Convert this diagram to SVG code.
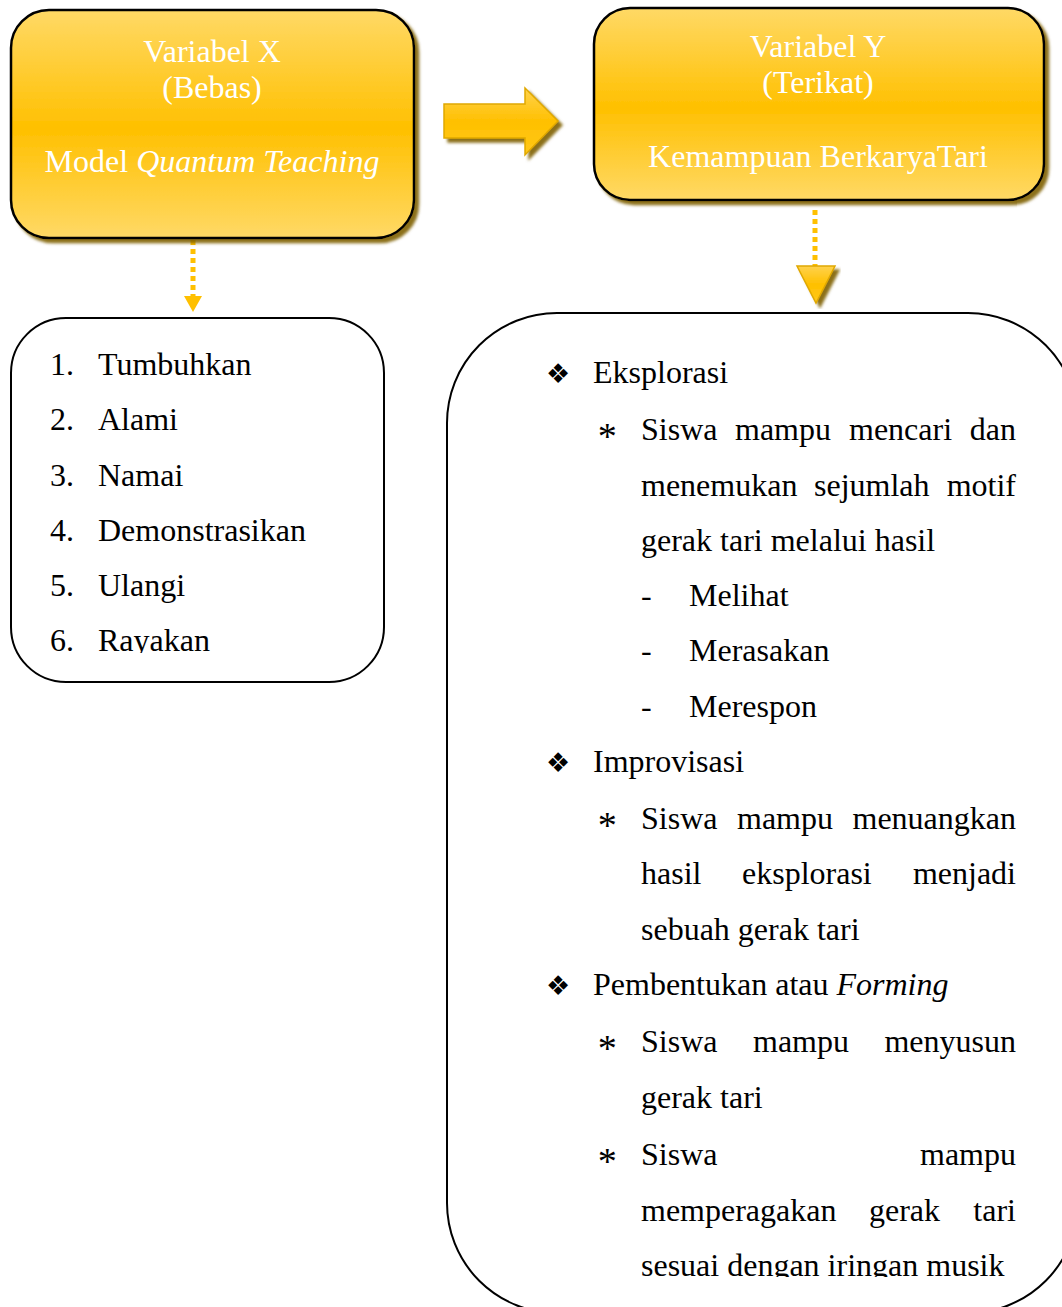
<svg xmlns="http://www.w3.org/2000/svg" width="1062" height="1307" viewBox="0 0 1062 1307">
<defs>
<linearGradient id="boxGrad" x1="0" y1="0" x2="0" y2="1">
<stop offset="0" stop-color="#FFD966"/>
<stop offset="0.52" stop-color="#FFC000"/>
<stop offset="1" stop-color="#FFD966"/>
</linearGradient>
<linearGradient id="arrGrad" x1="0" y1="0" x2="0" y2="1">
<stop offset="0" stop-color="#FFD24D"/>
<stop offset="0.5" stop-color="#FFC000"/>
<stop offset="1" stop-color="#FFC81A"/>
</linearGradient>
<filter id="shadow" x="-10%" y="-10%" width="125%" height="125%">
<feGaussianBlur in="SourceAlpha" stdDeviation="1.5" result="b"/>
<feOffset in="b" dx="4" dy="4" result="o"/>
<feFlood flood-color="#7F6000" flood-opacity="0.9"/>
<feComposite in2="o" operator="in" result="s"/>
<feMerge><feMergeNode in="s"/><feMergeNode in="SourceGraphic"/></feMerge>
</filter>
<clipPath id="clipLeft"><rect x="0" y="320" width="400" height="333"/></clipPath>
<clipPath id="clipRight"><rect x="440" y="320" width="622" height="957"/></clipPath>
</defs>
<style>
.box{fill:url(#boxGrad);stroke:#000;stroke-width:2.5;filter:url(#shadow)}
.plain{fill:#fff;stroke:#000;stroke-width:2}
.hd{font-family:"Liberation Serif","Times New Roman",serif;font-size:32px;fill:#FFFFFF;text-anchor:middle}
.t{font-family:"Liberation Serif","Times New Roman",serif;font-size:32px;fill:#000}
.bul{font-family:"DejaVu Sans",sans-serif;font-size:27px;fill:#000}
.ast{font-family:"Liberation Serif",serif;font-size:38px;font-style:italic;fill:#000}
.e{text-anchor:end}
.dot{stroke:#FFC000;stroke-width:5;stroke-dasharray:5 4;fill:none}
</style>

<g id="connectors">
<polygon points="444,104 525,104 525,88 558,121 525,155 525,138 444,138" fill="url(#arrGrad)" stroke="#E0A800" stroke-width="1.5" filter="url(#shadow)"/>
<line class="dot" x1="193" y1="240" x2="193" y2="296"/>
<polygon points="184,296 202,296 193,312" fill="#FFC000"/>
<line class="dot" x1="815" y1="210" x2="815" y2="266"/>
<polygon points="797,266 835,266 816,303" fill="url(#arrGrad)" stroke="#E0A800" stroke-width="1.5" filter="url(#shadow)"/>
</g>

<g id="varX">
<rect class="box" x="11" y="10" width="403" height="228" rx="38"/>
<text class="hd" x="212" y="62">Variabel X</text>
<text class="hd" x="212" y="98">(Bebas)</text>
<text class="hd" x="212" y="172">Model <tspan font-style="italic">Quantum Teaching</tspan></text>
</g>

<g id="varY">
<rect class="box" x="594" y="8" width="450" height="192" rx="36"/>
<text class="hd" x="818" y="57">Variabel Y</text>
<text class="hd" x="818" y="93">(Terikat)</text>
<text class="hd" x="818" y="167">Kemampuan BerkaryaTari</text>
</g>

<g id="listX">
<rect class="plain" x="11" y="318" width="373" height="364" rx="55"/>
<g clip-path="url(#clipLeft)">
<text class="t" x="50" y="375">1.</text><text class="t" x="98" y="375">Tumbuhkan</text>
<text class="t" x="50" y="430">2.</text><text class="t" x="98" y="430">Alami</text>
<text class="t" x="50" y="486">3.</text><text class="t" x="98" y="486">Namai</text>
<text class="t" x="50" y="541">4.</text><text class="t" x="98" y="541">Demonstrasikan</text>
<text class="t" x="50" y="596">5.</text><text class="t" x="98" y="596">Ulangi</text>
<text class="t" x="50" y="651">6.</text><text class="t" x="98" y="651">Rayakan</text>
</g>
</g>

<g id="listY">
<rect class="plain" x="447" y="313" width="631" height="1000" rx="110"/>
<g clip-path="url(#clipRight)">
<text class="bul" x="546" y="383">❖</text><text class="t" x="593" y="383">Eksplorasi</text>
<text class="ast" x="596" y="449">*</text>
<text class="t" x="641" y="440">Siswa</text><text class="t" x="735" y="440">mampu</text><text class="t" x="849" y="440">mencari</text><text class="t e" x="1016" y="440">dan</text>
<text class="t" x="641" y="496">menemukan</text><text class="t" x="814" y="496">sejumlah</text><text class="t e" x="1016" y="496">motif</text>
<text class="t" x="641" y="551">gerak tari melalui hasil</text>
<text class="t" x="641" y="606">-</text><text class="t" x="689" y="606">Melihat</text>
<text class="t" x="641" y="661">-</text><text class="t" x="689" y="661">Merasakan</text>
<text class="t" x="641" y="717">-</text><text class="t" x="689" y="717">Merespon</text>
<text class="bul" x="546" y="772">❖</text><text class="t" x="593" y="772">Improvisasi</text>
<text class="ast" x="596" y="838">*</text>
<text class="t" x="641" y="829">Siswa</text><text class="t" x="737" y="829">mampu</text><text class="t e" x="1016" y="829">menuangkan</text>
<text class="t" x="641" y="884">hasil</text><text class="t" x="742" y="884">eksplorasi</text><text class="t e" x="1016" y="884">menjadi</text>
<text class="t" x="641" y="940">sebuah gerak tari</text>
<text class="bul" x="546" y="995">❖</text><text class="t" x="593" y="995">Pembentukan atau <tspan font-style="italic">Forming</tspan></text>
<text class="ast" x="596" y="1061">*</text>
<text class="t" x="641" y="1052">Siswa</text><text class="t" x="753" y="1052">mampu</text><text class="t e" x="1016" y="1052">menyusun</text>
<text class="t" x="641" y="1108">gerak tari</text>
<text class="ast" x="596" y="1174">*</text>
<text class="t" x="641" y="1165">Siswa</text><text class="t e" x="1016" y="1165">mampu</text>
<text class="t" x="641" y="1221">memperagakan</text><text class="t" x="869" y="1221">gerak</text><text class="t e" x="1016" y="1221">tari</text>
<text class="t" x="641" y="1276">sesuai dengan iringan musik</text>
</g>
</g>
</svg>
